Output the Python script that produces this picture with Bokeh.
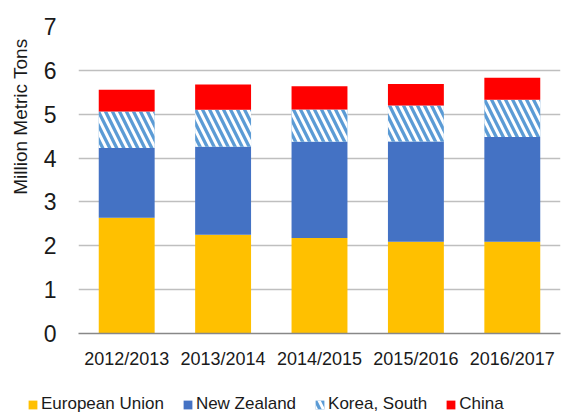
from bokeh.plotting import figure
from bokeh.layouts import column
from bokeh.models import (ColumnDataSource, FactorRange, Range1d, FixedTicker,
                          Legend, LegendItem)
from bokeh.transform import stack
from bokeh.embed import file_html
from bokeh.resources import INLINE

# ---- data ----
years = ["2012/2013", "2013/2014", "2014/2015", "2015/2016", "2016/2017"]
series_names = ["European Union", "New Zealand", "Korea, South", "China"]
european_union = [2.64, 2.25, 2.18, 2.09, 2.09]
new_zealand = [1.59, 2.01, 2.19, 2.29, 2.39]
korea_south = [0.83, 0.84, 0.74, 0.82, 0.85]
china = [0.50, 0.58, 0.53, 0.49, 0.50]
y_ticks = [0, 1, 2, 3, 4, 5, 6, 7]
y_title = "Million Metric Tons"

colors = ["#FFC000", "#4472C4", "#5B9BD5", "#FF0000"]
FONT = "Liberation Sans"
TEXT = "#1A1A1A"
NBSP = "\u00a0"
cols = ["eu", "nz", "ko", "cn"]


def style(i):
    kw = dict(fill_color=colors[i], line_color=None)
    if cols[i] == "ko":
        kw.update(hatch_pattern="\\", hatch_color="white",
                  hatch_weight=3, hatch_scale=14)
    return kw


source = ColumnDataSource(dict(year=years, eu=european_union, nz=new_zealand,
                               ko=korea_south, cn=china))

p = figure(x_range=FactorRange(*years, range_padding=0),
           y_range=Range1d(0, 7),
           width=561, height=373,
           min_border_left=78, min_border_right=1,
           min_border_top=26, min_border_bottom=40,
           output_backend="svg", toolbar_location=None)
p.frame_align = False

for i in range(len(cols)):
    p.vbar(x="year", top=stack(*cols[:i + 1]), bottom=stack(*cols[:i]),
           width=0.58, source=source, **style(i))

# axes / grid
p.outline_line_color = None
p.xgrid.grid_line_color = None
p.ygrid.grid_line_color = "#BFBFBF"
p.ygrid.grid_line_width = 1.5
p.ygrid.ticker = FixedTicker(ticks=y_ticks)

p.yaxis.ticker = FixedTicker(ticks=y_ticks)
p.yaxis.axis_line_color = None
p.yaxis.major_tick_line_color = None
p.yaxis.major_tick_out = 0
p.yaxis.major_tick_in = 0
p.yaxis.minor_tick_line_color = None
p.yaxis.major_label_text_font = FONT
p.yaxis.major_label_text_font_size = "23px"
p.yaxis.major_label_text_color = TEXT
p.yaxis.major_label_standoff = 22
# title sits above the frame centre in the reference: pad its start
p.yaxis.axis_label = NBSP * 24 + y_title
p.yaxis.axis_label_text_font = FONT
p.yaxis.axis_label_text_font_size = "19px"
p.yaxis.axis_label_text_font_style = "normal"
p.yaxis.axis_label_text_color = TEXT
p.yaxis.axis_label_standoff = 10

p.xaxis.axis_line_color = "#888888"
p.xaxis.axis_line_width = 1.5
p.xaxis.major_tick_line_color = None
p.xaxis.major_tick_out = 0
p.xaxis.major_tick_in = 0
p.xaxis.minor_tick_line_color = None
p.xaxis.major_label_text_font = FONT
p.xaxis.major_label_text_font_size = "18px"
p.xaxis.major_label_text_color = TEXT
p.xaxis.major_label_standoff = 15

# ---- legend strip (own small figure, legend proxies hidden) ----
q = figure(width=561, height=44,
           x_range=FactorRange(*years, range_padding=0), y_range=Range1d(0, 7),
           x_axis_location=None, y_axis_location=None,
           min_border_left=0, min_border_right=0, min_border_top=0,
           min_border_bottom=0, output_backend="svg", toolbar_location=None)
q.frame_align = False
q.grid.visible = False
q.outline_line_color = None
leg_renderers = [q.vbar(x="year", top=stack(*cols[:i + 1]),
                        bottom=stack(*cols[:i]), width=0.58, source=source,
                        visible=False, **style(i))
                 for i in range(len(cols))]
legend = Legend(items=[LegendItem(label=n, renderers=[r])
                       for n, r in zip(series_names, leg_renderers)],
                location=(27, 3), orientation="horizontal",
                padding=0, margin=0, spacing=18, label_standoff=3,
                glyph_width=11, glyph_height=11,
                label_text_font=FONT, label_text_font_size="17px",
                label_text_color=TEXT, inactive_fill_alpha=0,
                border_line_color=None, background_fill_alpha=0)
q.add_layout(legend, "center")

layout = column(p, q, spacing=0)
open("out.html", "w").write(file_html(layout, INLINE))
